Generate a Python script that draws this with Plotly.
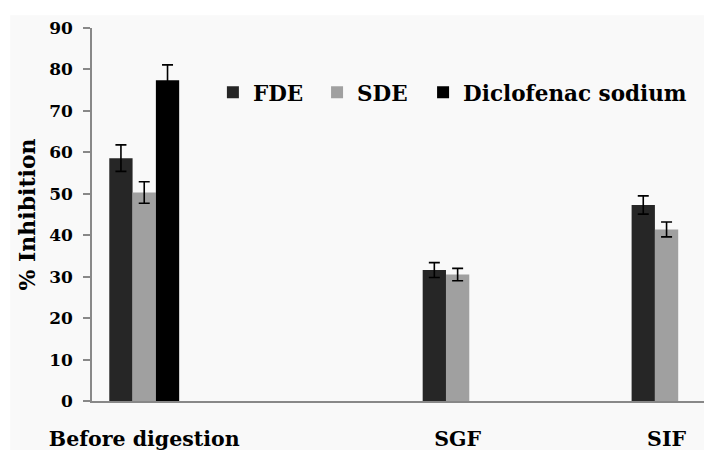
import plotly.graph_objects as go

categories = ["Before digestion", "SGF", "SIF"]
cat_pos = [0, 3, 5]

fde = [58.6, 31.6, 47.3]
fde_err = [3.2, 1.8, 2.2]
sde = [50.3, 30.5, 41.4]
sde_err = [2.6, 1.5, 1.8]
dic = [77.4]
dic_err = [3.7]

y_ticks = [0, 10, 20, 30, 40, 50, 60, 70, 80, 90]

FONT = "DejaVu Serif"
bw = 0.223

fig = go.Figure()
series = [
    ("FDE", cat_pos, fde, fde_err, "#262626", -1.5 * bw, "legend"),
    ("SDE", cat_pos, sde, sde_err, "#a0a0a0", -0.5 * bw, "legend2"),
    ("Diclofenac sodium", cat_pos[:1], dic, dic_err, "#000000", 0.5 * bw, "legend3"),
]
for name, xs, ys, es, col, off, lg in series:
    fig.add_trace(go.Bar(
        name=name, x=xs, y=ys, width=bw, offset=off, legend=lg, showlegend=True,
        marker=dict(color=col, line=dict(width=0)),
        error_y=dict(type="data", array=es, visible=True, color="black",
                     thickness=1.6, width=5.5),
    ))

fig.add_shape(type="rect", xref="paper", yref="paper",
              x0=-0.132, x1=1.05, y0=-0.3, y1=1.034,
              fillcolor="#f9f9f9", line=dict(width=0), layer="below")

leg_common = dict(orientation="h", y=0.828, xanchor="left", yanchor="middle",
                  font=dict(family=FONT, size=21.5, color="black", weight="bold"),
                  bgcolor="rgba(0,0,0,0)", itemwidth=30)

fig.update_layout(
    width=704, height=442,
    margin=dict(l=84, r=0, t=20, b=49),
    paper_bgcolor="white", plot_bgcolor="rgba(0,0,0,0)",
    barmode="overlay",
    showlegend=True,
    font=dict(family=FONT, color="black"),
    legend=dict(x=0.195, **leg_common),
    legend2=dict(x=0.363, **leg_common),
    legend3=dict(x=0.534, **leg_common),
    xaxis=dict(range=[-0.5, 5.435], tickvals=cat_pos, ticktext=categories,
               showgrid=False, zeroline=False, showline=True, linecolor="#888888",
               linewidth=1.5, ticks="", ticklabelstandoff=19,
               tickfont=dict(family=FONT, size=20.5, color="black", weight="bold")),
    yaxis=dict(range=[0, 90], tickvals=y_ticks, showgrid=False, zeroline=False,
               showline=True, linecolor="#888888", linewidth=1.5,
               ticks="outside", ticklen=7, tickcolor="#888888", tickwidth=1.5,
               ticklabelstandoff=7,
               tickfont=dict(family=FONT, size=17, color="black", weight="bold"),
               title=dict(text="% Inhibition", standoff=7,
                          font=dict(family=FONT, size=22, color="black", weight="bold"))),
)

fig.write_html("out.html")
